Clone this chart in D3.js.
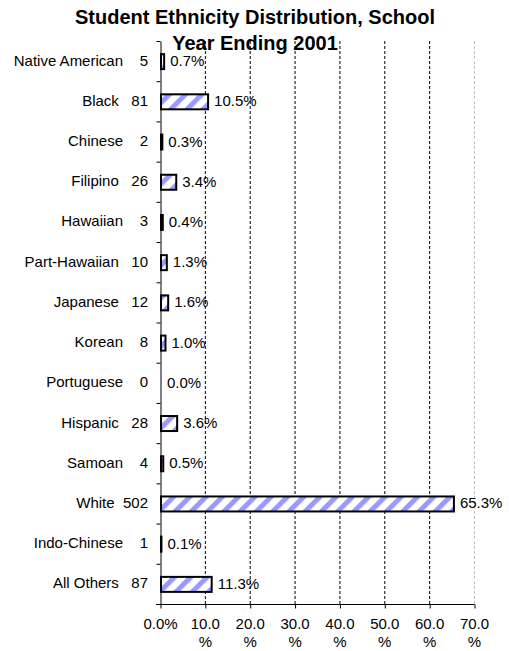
<!DOCTYPE html>
<html>
<head>
<meta charset="utf-8">
<script src="https://cdn.jsdelivr.net/npm/d3@7"></script>
<style>
  html, body { margin: 0; padding: 0; background: #fff; }
  svg { display: block; font-family: "Liberation Sans", Arial, sans-serif; }
</style>
</head>
<body>
<svg id="chart" width="509" height="651"></svg>
<script>
// Enrollment by ethnicity
const categories = ["Native American", "Black", "Chinese", "Filipino", "Hawaiian",
  "Part-Hawaiian", "Japanese", "Korean", "Portuguese", "Hispanic", "Samoan",
  "White", "Indo-Chinese", "All Others"];
const counts = [5, 81, 2, 26, 3, 10, 12, 8, 0, 28, 4, 502, 1, 87];
const percents = [0.7, 10.5, 0.3, 3.4, 0.4, 1.3, 1.6, 1.0, 0.0, 3.6, 0.5, 65.3, 0.1, 11.3];

const xTicks = [0, 10, 20, 30, 40, 50, 60, 70];
const xTickLabels = [["0.0%"], ["10.0", "%"], ["20.0", "%"], ["30.0", "%"],
  ["40.0", "%"], ["50.0", "%"], ["60.0", "%"], ["70.0", "%"]];
const titleLines = ["Student Ethnicity Distribution, School", "Year Ending 2001"];

const svg = d3.select("#chart");
const plot = { left: 160, right: 474, top: 41, bottom: 604 };

const x = d3.scaleLinear().domain([0, 70]).range([plot.left, plot.right]);
const y = d3.scaleBand().domain(categories).range([plot.top, plot.bottom]).paddingInner(0);
const yEdges = d3.scaleLinear().domain([0, categories.length]).range([plot.top, plot.bottom]);

// hatch fill for the bars
const defs = svg.append("defs");
const hatch = defs.append("pattern")
  .attr("id", "hatch")
  .attr("patternUnits", "userSpaceOnUse")
  .attr("width", 11.5).attr("height", 11.5)
  .attr("patternTransform", "rotate(45)");
hatch.append("rect").attr("width", 11.5).attr("height", 11.5).attr("fill", "#fff");
hatch.append("rect").attr("width", 5).attr("height", 11.5).attr("fill", "#9999ff");

// vertical gridlines
svg.append("g")
  .selectAll("line")
  .data(xTicks.filter(d => d > 0))
  .join("line")
  .attr("x1", d => x(d) + 0.5).attr("x2", d => x(d) + 0.5)
  .attr("y1", plot.top).attr("y2", plot.bottom)
  .attr("stroke", d => d === 70 ? "#c0c0c0" : "#000")
  .attr("stroke-width", 1)
  .attr("stroke-dasharray", "3,2");

// bars
const barH = 15;
const rows = categories.map((c, i) => ({ cat: c, n: counts[i], pct: percents[i] }));
svg.append("g")
  .selectAll("rect")
  .data(rows.filter(d => d.pct > 0))
  .join("rect")
  .attr("x", x(0) + 1)
  .attr("y", d => y(d.cat) + y.bandwidth() / 2 - barH / 2 + 0.5)
  .attr("width", d => Math.max(0.01, x(d.pct) - x(0)))
  .attr("height", barH)
  .attr("fill", "url(#hatch)")
  .attr("stroke", "#000")
  .attr("stroke-width", 2);

// left axis with ticks on the category boundaries
const yAxis = svg.append("g")
  .attr("transform", `translate(${plot.left + 0.5},0)`)
  .call(d3.axisLeft(yEdges).tickValues(d3.range(categories.length + 1)).tickSize(4).tickFormat("").tickSizeOuter(0));
yAxis.select(".domain").attr("stroke", "#000");
yAxis.selectAll(".tick line").attr("stroke", "#000");

// bottom axis
const xAxis = svg.append("g")
  .attr("transform", `translate(0.5,${plot.bottom + 0.5})`)
  .call(d3.axisBottom(x).tickValues(xTicks).tickSize(4).tickFormat("").tickSizeOuter(0));
xAxis.select(".domain").attr("d", `M${plot.left - 4.5},0H${x(70)}`).attr("stroke", "#000");
xAxis.selectAll(".tick line").attr("stroke", "#000");

const xLab = svg.append("g")
  .attr("font-size", 15).attr("fill", "#000").attr("text-anchor", "middle");
xTicks.forEach((t, i) => {
  const txt = xLab.append("text").attr("x", x(t) + 0.5).attr("y", 629);
  xTickLabels[i].forEach((line, k) => {
    txt.append("tspan").attr("x", x(t) + 0.5).attr("y", 629 + k * 18).text(line);
  });
});

// category names with their counts
svg.append("g")
  .attr("font-size", 15).attr("fill", "#000").attr("text-anchor", "end")
  .selectAll("text")
  .data(rows)
  .join("text")
  .attr("xml:space", "preserve")
  .style("white-space", "pre")
  .attr("x", 148)
  .attr("y", d => y(d.cat) + y.bandwidth() / 2 + 4.5)
  .text(d => d.cat + " " + String(d.n).padStart(4, " "));

// percentage labels
svg.append("g")
  .attr("font-size", 15).attr("fill", "#000")
  .selectAll("text")
  .data(rows)
  .join("text")
  .attr("x", d => x(d.pct) + 7)
  .attr("y", d => y(d.cat) + y.bandwidth() / 2 + 5)
  .text(d => d.pct.toFixed(1) + "%");

// title
svg.append("g")
  .attr("font-size", 20).attr("font-weight", "bold").attr("fill", "#000").attr("text-anchor", "middle")
  .selectAll("text")
  .data(titleLines)
  .join("text")
  .attr("x", 255)
  .attr("y", (d, i) => 24 + i * 26)
  .text(d => d);
</script>
</body>
</html>
